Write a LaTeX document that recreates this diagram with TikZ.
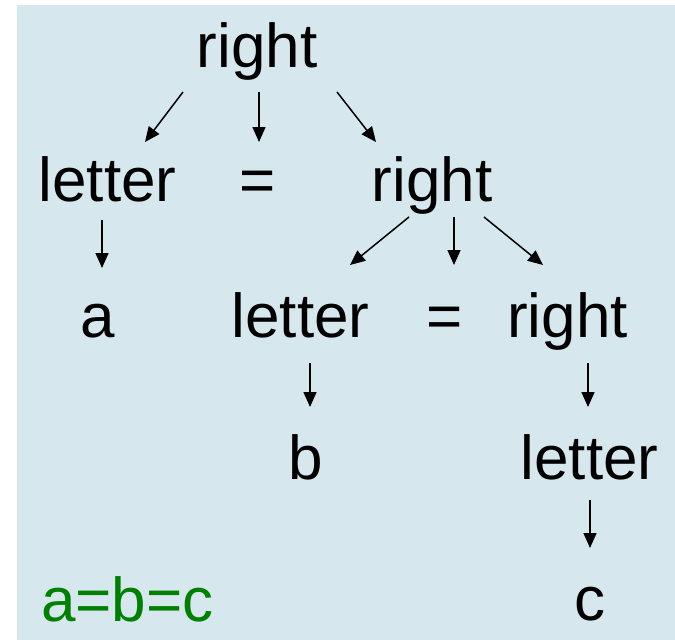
\documentclass[tikz,border=0pt]{standalone}
\usepackage{fontspec}
\setmainfont{Liberation Sans}
\usetikzlibrary{arrows.meta}
\definecolor{bgblue}{RGB}{214,231,237}
\definecolor{eqgreen}{RGB}{0,128,0}
\begin{document}
\begin{tikzpicture}[x=1pt,y=-1pt,
  word/.style={anchor=base,inner sep=0pt,font=\fontsize{62}{68}\selectfont},
  arr/.style={line width=1.5pt,-{Triangle[length=15pt,width=13pt]}}]
\useasboundingbox (0,0) rectangle (675,640);
\fill[bgblue] (17,5) rectangle (675,640);
% nodes
\node[word] (r1) at (257,67) {right};
\node[word] (l2) at (107.5,201) {letter};
\node[word] (e2) at (258,201) {=};
\node[word] (r2) at (432,201) {right};
\node[word] (a3) at (98,337) {a};
\node[word] (l3) at (300.5,337) {letter};
\node[word] (e3) at (445,337) {=};
\node[word] (r3) at (567.5,337) {right};
\node[word] (b4) at (305.5,479) {b};
\node[word] (l4) at (589.5,479) {letter};
\node[word] (c5) at (590,620) {c};
\node[word,text=eqgreen] (eq) at (127.5,621) {a=b=c};
% connectors
\draw[arr] ([shift={(-74,25)}]r1.base) -- ([shift={(37.5,-59)}]l2.base);
\draw[arr] ([shift={(2,25)}]r1.base) -- ([shift={(1,-59)}]e2.base);
\draw[arr] ([shift={(80,25)}]r1.base) -- ([shift={(-56,-59)}]r2.base);
\draw[arr] ([shift={(-5.5,19)}]l2.base) -- ([shift={(4,-69)}]a3.base);
\draw[arr] ([shift={(-23,16)}]r2.base) -- ([shift={(49.5,-72)}]l3.base);
\draw[arr] ([shift={(22,16)}]r2.base) -- ([shift={(9,-72)}]e3.base);
\draw[arr] ([shift={(52,16)}]r2.base) -- ([shift={(-24.5,-72)}]r3.base);
\draw[arr] ([shift={(9.5,26)}]l3.base) -- ([shift={(4.5,-72)}]b4.base);
\draw[arr] ([shift={(20.5,26)}]r3.base) -- ([shift={(-1.5,-72)}]l4.base);
\draw[arr] ([shift={(0.5,21)}]l4.base) -- ([shift={(0,-72)}]c5.base);
\end{tikzpicture}
\end{document}
